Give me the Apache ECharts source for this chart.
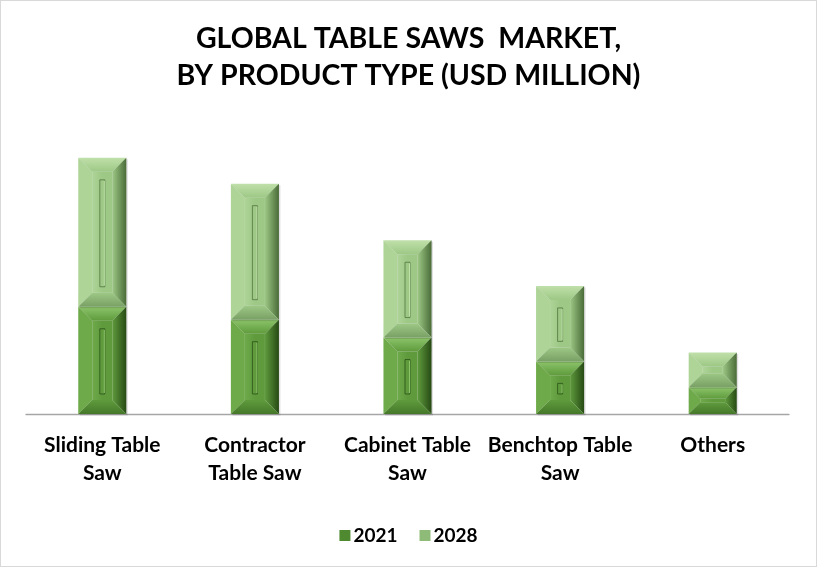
<!DOCTYPE html>
<html><head><meta charset="utf-8">
<script src="https://cdn.jsdelivr.net/npm/echarts@6/dist/echarts.min.js"></script>
<style>html,body{margin:0;padding:0;background:#fff}#c{width:817px;height:567px;box-sizing:border-box;border:1px solid #d9d9d9}</style>
</head><body><div id="c"></div>
<script>
const categories = ['Sliding Table\nSaw', 'Contractor\nTable Saw', 'Cabinet Table\nSaw', 'Benchtop Table\nSaw', 'Others'];
const seriesNames = ['2021', '2028'];
const values2021 = [108, 95, 77, 53, 27];
const values2028 = [150, 137, 98, 76, 35];

const palettes = {
  '2021': {face:'#5f9b3d', top:'#8cc46a', left:'#6eaa4a', right:'#264a14', bottom:'#457829', legend:'#4f8a30'},
  '2028': {face:'#9dc885', top:'#c0e0aa', left:'#aed498', right:'#4a6c38', bottom:'#79a065', legend:'#8fbb78'}
};

function makeRender(name){
  const p = palettes[name];
  return function(params, api){
    const idx = api.value(0);
    const lo = api.coord([idx, api.value(1)]);
    const hi = api.coord([idx, api.value(2)]);
    const w = api.size([1,0])[0]*0.315;
    const x0 = lo[0]-w/2, x1 = lo[0]+w/2;
    const y0 = hi[1], y1 = lo[1];
    const h = y1-y0;
    const b = Math.min(14, h/2.3, w/3.2);
    const ix0=x0+b, ix1=x1-b, iy0=y0+b, iy1=y1-b;
    const ch = [];
    ch.push({type:'rect', shape:{x:x0+1.5,y:y0+1.5,width:w,height:h}, style:{fill:'rgba(0,0,0,0.12)'}});
    ch.push({type:'polygon', shape:{points:[[x0,y0],[x1,y0],[ix1,iy0],[ix0,iy0]]}, style:{fill:new echarts.graphic.LinearGradient(0,0,0,1,[{offset:0,color:p.top},{offset:1,color:p.face}])}});
    ch.push({type:'polygon', shape:{points:[[x0,y0],[ix0,iy0],[ix0,iy1],[x0,y1]]}, style:{fill:p.left}});
    ch.push({type:'polygon', shape:{points:[[x1,y0],[x1,y1],[ix1,iy1],[ix1,iy0]]}, style:{fill:new echarts.graphic.LinearGradient(0,0,1,0,[{offset:0,color:p.face},{offset:1,color:p.right}])}});
    ch.push({type:'polygon', shape:{points:[[x0,y1],[ix0,iy1],[ix1,iy1],[x1,y1]]}, style:{fill:new echarts.graphic.LinearGradient(0,0,0,1,[{offset:0,color:p.face},{offset:1,color:p.bottom}])}});
    ch.push({type:'rect', shape:{x:ix0,y:iy0,width:ix1-ix0,height:iy1-iy0}, style:{fill:new echarts.graphic.LinearGradient(0,0,1,0,[{offset:0,color:p.left},{offset:0.5,color:p.face},{offset:1,color:p.face}])}});
    if (iy1-iy0 > 24){
      const gx = (x0+x1)/2 - 2.5;
      const gy0 = iy0+8, gy1 = iy1-6;
      ch.push({type:'rect', shape:{x:gx,y:gy0,width:5,height:gy1-gy0}, style:{fill:p.face, stroke:p.right, lineWidth:0.8, opacity:0.9}});
      ch.push({type:'line', shape:{x1:gx+4.5,y1:gy0+1,x2:gx+4.5,y2:gy1-1}, style:{stroke:p.top, lineWidth:1}});
    }
    return {type:'group', children:ch};
  };
}

const d2021 = values2021.map((v,i)=>[i,0,v]);
const d2028 = values2028.map((v,i)=>[i,values2021[i],values2021[i]+v]);

const chart = echarts.init(document.getElementById('c'));
chart.setOption({
  animation:false,
  title:{text:'GLOBAL TABLE SAWS  MARKET,\nBY PRODUCT TYPE (USD MILLION)', left:'center', top:14,
    textStyle:{fontFamily:'Lato', fontWeight:'bold', fontSize:28.5, lineHeight:37, color:'#000'}},
  legend:{bottom:16, left:'center', itemWidth:11, itemHeight:11, itemGap:22, icon:'rect',
    textStyle:{fontFamily:'Lato', fontWeight:'bold', fontSize:19, color:'#000', padding:[0,0,0,-2]},
    data:[{name:'2021', itemStyle:{color:palettes['2021'].legend}},{name:'2028', itemStyle:{color:palettes['2028'].legend}}]},
  grid:{left:25, right:27, top:135, bottom:152},
  xAxis:{type:'category', data:categories, axisLine:{lineStyle:{color:'#a6a6a6', width:1.3}}, axisTick:{show:false},
    axisLabel:{interval:0, fontFamily:'Lato', fontWeight:'bold', fontSize:21, color:'#000', lineHeight:28, margin:17}},
  yAxis:{type:'value', min:0, max:280, show:false, splitLine:{show:false}},
  series:[
    {name:'2021', type:'custom', renderItem:makeRender('2021'), data:d2021, encode:{x:0,y:[1,2]}, itemStyle:{color:palettes['2021'].legend}},
    {name:'2028', type:'custom', renderItem:makeRender('2028'), data:d2028, encode:{x:0,y:[1,2]}, itemStyle:{color:palettes['2028'].legend}}
  ]
});
</script></body></html>
